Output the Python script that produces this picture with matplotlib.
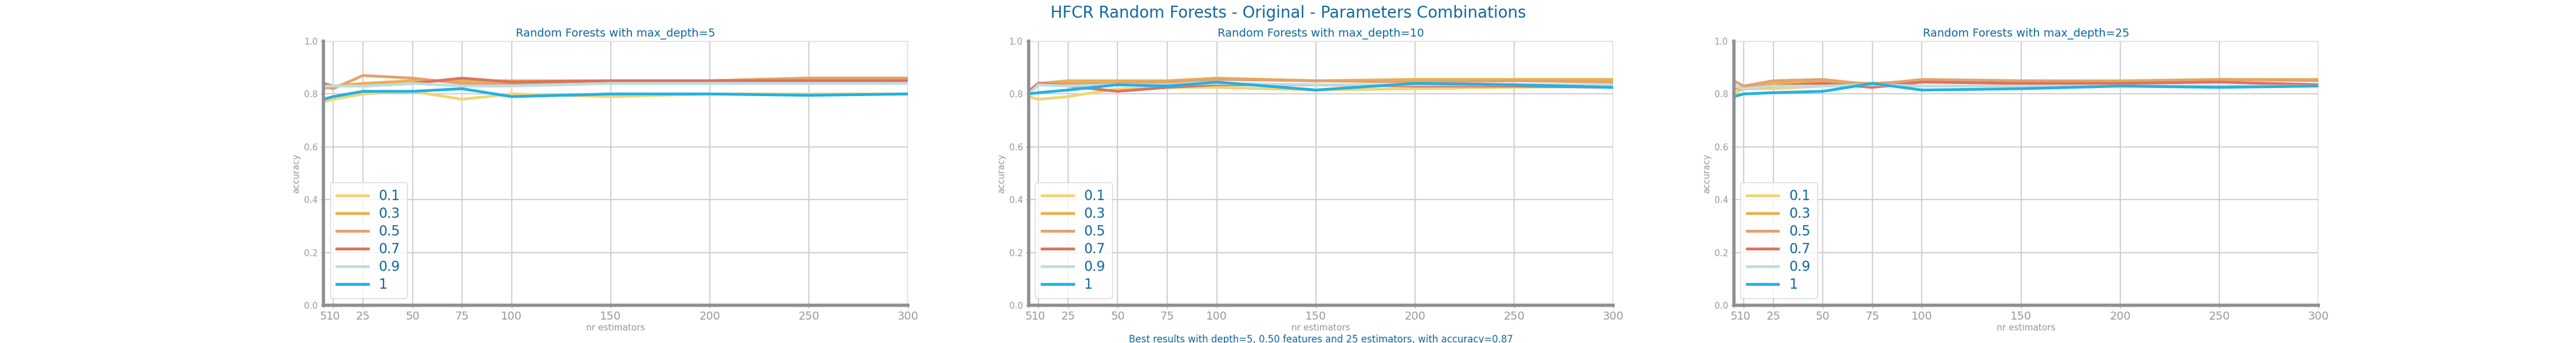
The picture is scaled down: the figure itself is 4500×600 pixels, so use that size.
import matplotlib
matplotlib.use('Agg')
import matplotlib.pyplot as plt

n_estimators = [5, 10, 25, 50, 75, 100, 150, 200, 250, 300]
max_features = ['0.1', '0.3', '0.5', '0.7', '0.9', '1']
depths = [5, 10, 25]

# accuracy per depth, per max_features
acc_depth5 = [
    [0.77, 0.78, 0.80, 0.81, 0.78, 0.80, 0.79, 0.80, 0.80, 0.80],
    [0.82, 0.83, 0.84, 0.85, 0.85, 0.85, 0.85, 0.85, 0.86, 0.86],
    [0.83, 0.82, 0.87, 0.86, 0.84, 0.84, 0.85, 0.85, 0.86, 0.86],
    [0.84, 0.83, 0.83, 0.84, 0.86, 0.845, 0.85, 0.85, 0.85, 0.85],
    [0.83, 0.83, 0.83, 0.84, 0.83, 0.83, 0.84, 0.84, 0.84, 0.84],
    [0.78, 0.79, 0.81, 0.81, 0.82, 0.79, 0.80, 0.80, 0.795, 0.80],
]
acc_depth10 = [
    [0.79, 0.78, 0.79, 0.82, 0.825, 0.825, 0.815, 0.82, 0.825, 0.83],
    [0.80, 0.84, 0.85, 0.85, 0.85, 0.86, 0.85, 0.855, 0.855, 0.855],
    [0.81, 0.84, 0.84, 0.84, 0.845, 0.855, 0.85, 0.845, 0.85, 0.845],
    [0.81, 0.84, 0.83, 0.81, 0.825, 0.835, 0.835, 0.83, 0.83, 0.825],
    [0.80, 0.835, 0.83, 0.835, 0.835, 0.84, 0.835, 0.835, 0.835, 0.835],
    [0.80, 0.805, 0.815, 0.835, 0.83, 0.845, 0.815, 0.84, 0.835, 0.825],
]
acc_depth25 = [
    [0.80, 0.82, 0.82, 0.83, 0.83, 0.83, 0.83, 0.83, 0.83, 0.83],
    [0.82, 0.82, 0.84, 0.845, 0.84, 0.85, 0.85, 0.85, 0.855, 0.855],
    [0.85, 0.83, 0.85, 0.855, 0.835, 0.855, 0.85, 0.845, 0.855, 0.85],
    [0.83, 0.82, 0.83, 0.84, 0.825, 0.845, 0.84, 0.84, 0.845, 0.835],
    [0.83, 0.82, 0.83, 0.83, 0.835, 0.83, 0.83, 0.83, 0.83, 0.83],
    [0.79, 0.80, 0.805, 0.81, 0.84, 0.815, 0.82, 0.83, 0.825, 0.83],
]
all_acc = [acc_depth5, acc_depth10, acc_depth25]

colors = ['#F0D574', '#EBB04D', '#E3A26D', '#DC735F', '#BEDDE0', '#22B1E5']
blue = '#10699E'
grey = '#999999'

fig, axs = plt.subplots(1, 3, figsize=(45, 6), dpi=100)
fig.subplots_adjust(left=0.1255, right=0.9, top=0.88, bottom=0.11, wspace=0.206)
fig.suptitle('HFCR Random Forests - Original - Parameters Combinations', color=blue, fontsize=20, y=0.985)

for ax, d, acc in zip(axs, depths, all_acc):
    for vals, lab, c in zip(acc, max_features, colors):
        ax.plot(n_estimators, vals, color=c, lw=3.5, label=lab)
    ax.set_title(f'Random Forests with max_depth={d}', color=blue, fontsize=14)
    ax.set_xlim(5, 300)
    ax.set_ylim(0, 1)
    ax.set_xticks(n_estimators)
    ax.set_yticks([0, 0.2, 0.4, 0.6, 0.8, 1.0])
    ax.tick_params(colors=grey, labelsize=14)
    ax.tick_params(axis='y', labelsize=11)
    ax.grid(True, color='#D0D0D0', lw=1.5)
    for s in ['top', 'right']:
        ax.spines[s].set_visible(False)
    for s in ['left', 'bottom']:
        ax.spines[s].set_color('#8E8E93')
        ax.spines[s].set_linewidth(4)
    ax.set_xlabel('nr estimators', color=grey, fontsize=11, labelpad=2)
    ax.set_ylabel('accuracy', color=grey, fontsize=11)
    leg = ax.legend(loc='lower left', fontsize=17, handlelength=2.3, borderpad=0.5, labelspacing=0.3)
    for t in leg.get_texts():
        t.set_color(blue)

axs[1].text(0.5, -0.11, 'Best results with depth=5, 0.50 features and 25 estimators, with accuracy=0.87',
            transform=axs[1].transAxes, ha='center', va='top', color=blue, fontsize=12)

plt.savefig('out.png')
